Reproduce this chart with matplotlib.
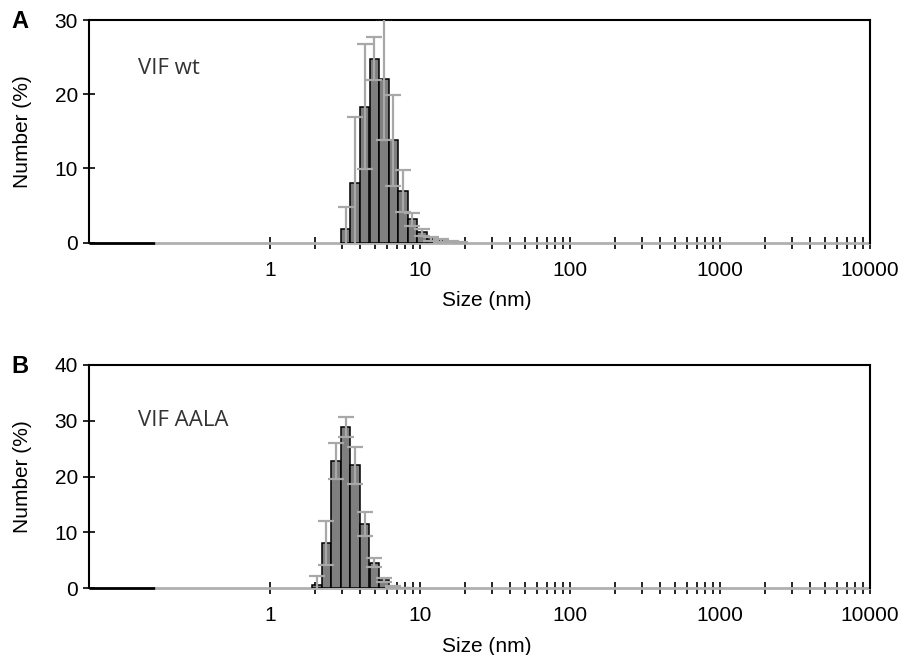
import numpy as np
import matplotlib
matplotlib.use("Agg")
import matplotlib.pyplot as plt
from matplotlib.ticker import FixedLocator, NullFormatter

# size classes (nm), log spaced
sizes = [2.06, 2.38, 2.76, 3.19, 3.70, 4.28, 4.96, 5.74, 6.65, 7.70,
         8.91, 10.3, 11.9, 13.8, 16.0, 18.5]

# VIF wt
wt_vals = [0, 0, 0, 1.8, 8.1, 18.3, 24.8, 22.0, 13.8, 7.0,
           3.15, 1.4, 0.5, 0.3, 0.15, 0.05]
wt_err = [0, 0, 0, 3.0, 8.9, 8.4, 2.85, 8.1, 6.1, 2.8,
          0.85, 0.5, 0.3, 0.2, 0.1, 0.05]

# VIF AALA
aala_vals = [0.6, 8.1, 22.8, 28.9, 22.0, 11.5, 4.6, 1.5, 0.3, 0.05,
             0, 0, 0, 0, 0, 0]
aala_err = [1.65, 4.0, 3.2, 1.75, 3.3, 2.2, 0.85, 0.4, 0.2, 0.05,
            0, 0, 0, 0, 0, 0]

panels = [
    ("A", "VIF wt", wt_vals, wt_err, [0, 10, 20, 30], 30),
    ("B", "VIF AALA", aala_vals, aala_err, [0, 10, 20, 30, 40], 40),
]

W, H = 904, 655
fig = plt.figure(figsize=(W / 100, H / 100), dpi=100)

# axes boxes in pixels: left, top, right, bottom
boxes = [(89, 20, 870, 242.7), (89, 365, 870, 588.3)]

tick_font = "Liberation Sans"
half = np.sqrt(1.158)
x_left = 10 ** ((89 - 270) / 150)

minor = [m * 10 ** e for e in range(0, 4) for m in range(2, 10)]

for (letter, name, vals, err, yt, ymax), (l, t, r, b) in zip(panels, boxes):
    ax = fig.add_axes([l / W, 1 - b / H, (r - l) / W, (b - t) / H])
    c = np.array(sizes)
    v = np.array(vals)
    e = np.array(err)
    mask = v > 0
    lefts = c / half
    widths = c * half - c / half
    ax.bar(lefts[mask], v[mask], width=widths[mask], align="edge",
           color="#7f7f7f", edgecolor="black", linewidth=1.1, zorder=3)
    ax.errorbar(c[mask], v[mask], yerr=e[mask], fmt="none", ecolor="#a8a8a8",
                elinewidth=1.6, capsize=5.5, capthick=1.6, zorder=4)

    ax.set_xscale("log")
    ax.set_xlim(x_left, 10000)
    ax.set_ylim(0, ymax)

    # baseline: black axis part, then grey zero line of the series
    ax.spines["bottom"].set_visible(False)
    ax.plot([x_left, 0.17], [0, 0], color="black", lw=2, zorder=2,
            clip_on=False, solid_capstyle="butt")
    ax.plot([0.17, 10000], [0, 0], color="#b0b0b0", lw=2, zorder=2,
            clip_on=False, solid_capstyle="butt")
    for s in ["top", "left", "right"]:
        ax.spines[s].set_linewidth(1.5)

    ax.xaxis.set_major_locator(FixedLocator([1, 10, 100, 1000, 10000]))
    ax.xaxis.set_minor_locator(FixedLocator(minor))
    ax.xaxis.set_minor_formatter(NullFormatter())
    ax.set_xticklabels(["1", "10", "100", "1000", "10000"])
    ax.set_yticks(yt)
    ax.tick_params(axis="x", which="both", direction="inout", length=8,
                   width=1.2, pad=9, labelsize=15)
    ax.tick_params(axis="y", direction="inout", length=8, width=1.2,
                   pad=4, labelsize=15)
    for lab in ax.get_xticklabels() + ax.get_yticklabels():
        lab.set_fontfamily(tick_font)

    ax.text((138 - l) / (r - l), 1 - ((69 if letter == "A" else 420) - t) / (b - t),
            name, transform=ax.transAxes, fontsize=16, family="Open Sans",
            color="#333333", va="center", ha="left")

    fig.text(20 / W, 1 - (t + 2) / H, letter, fontsize=17, fontweight="bold",
             family=tick_font, ha="center", va="center")
    fig.text(23 / W, 1 - ((t + b) / 2) / H, "Number (%)", rotation=90,
             fontsize=15, family=tick_font, ha="center", va="center")
    fig.text(487 / W, 1 - (b + 58) / H, "Size (nm)", fontsize=15,
             family=tick_font, ha="center", va="center")

fig.savefig("out.png", dpi=100)
